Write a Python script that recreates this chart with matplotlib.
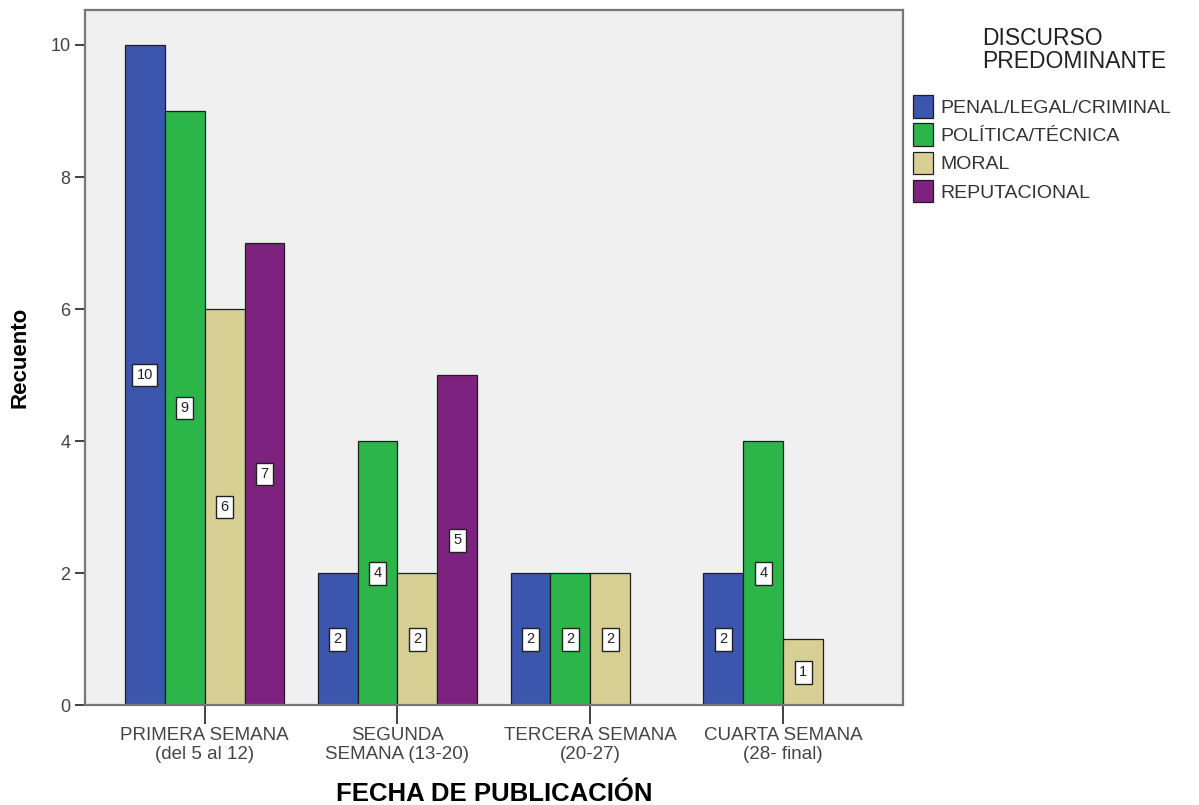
import numpy as np
import matplotlib
matplotlib.use("Agg")
import matplotlib.pyplot as plt

plt.rcParams['font.family'] = ['Liberation Sans', 'DejaVu Sans']

categorias = ['PRIMERA SEMANA\n(del 5 al 12)', 'SEGUNDA\nSEMANA (13-20)',
              'TERCERA SEMANA\n(20-27)', 'CUARTA SEMANA\n(28- final)']
discursos = ['PENAL/LEGAL/CRIMINAL', 'POLÍTICA/TÉCNICA', 'MORAL', 'REPUTACIONAL']
penal = [10, 2, 2, 2]
politica = [9, 4, 2, 4]
moral = [6, 2, 2, 1]
reputacional = [7, 5, 0, 0]
colores = ['#3d56ad', '#2cb64a', '#d8cf95', '#7e2280']

series = [penal, politica, moral, reputacional]

fig = plt.figure(figsize=(11.99, 8.05), dpi=100)
ax = fig.add_axes([0.0709, 0.124, 0.6821, 0.8636])
ax.set_facecolor('#f0f0f0')

x = np.arange(len(categorias))
ancho = 0.207
for i, (vals, nombre, col) in enumerate(zip(series, discursos, colores)):
    pos = x + (i - 1.5) * ancho
    vals = np.array(vals)
    mask = vals > 0
    ax.bar(pos[mask], vals[mask], width=ancho, color=col, edgecolor='#1e1e1e',
           linewidth=0.9, label=nombre)
    for p, v in zip(pos[mask], vals[mask]):
        ax.text(p, v / 2, str(v), ha='center', va='center', fontsize=10.5, color='#222222',
                bbox=dict(boxstyle='square,pad=0.3', fc='white', ec='#222222', lw=1.0))

ax.set_xlim(-0.62, 3.62)
ax.set_ylim(0, 10.53)
ax.set_yticks([0, 2, 4, 6, 8, 10])
ax.set_xticks(x)
ax.set_xticklabels(categorias, fontsize=13.5, color='#444444', linespacing=1.1)
ax.tick_params(axis='y', labelsize=13, labelcolor='#444444', length=7, width=1.3, color='#333333')
ax.tick_params(axis='x', length=14, width=1.3, color='#333333', pad=2)
for s in ax.spines.values():
    s.set_color('#777777')
    s.set_linewidth(1.6)

ax.set_ylabel('Recuento', fontsize=16, fontweight='bold', labelpad=14)
ax.set_xlabel('FECHA DE PUBLICACIÓN', fontsize=18.5, fontweight='bold', labelpad=14)

# titulo de la leyenda
fig.text(982 / 1199, 1 - 27 / 805, 'DISCURSO\nPREDOMINANTE', fontsize=16.5, color='#222222',
         ha='left', va='top', linespacing=1.02)

leg = fig.legend(loc='upper left', bbox_to_anchor=(0.7465, 0.9036), frameon=False,
                 fontsize=14, handlelength=1.05, handleheight=1.4, handletextpad=0.4,
                 labelspacing=0.3)
for t in leg.get_texts():
    t.set_color('#333333')

fig.savefig('out.png', dpi=100, facecolor='white')
